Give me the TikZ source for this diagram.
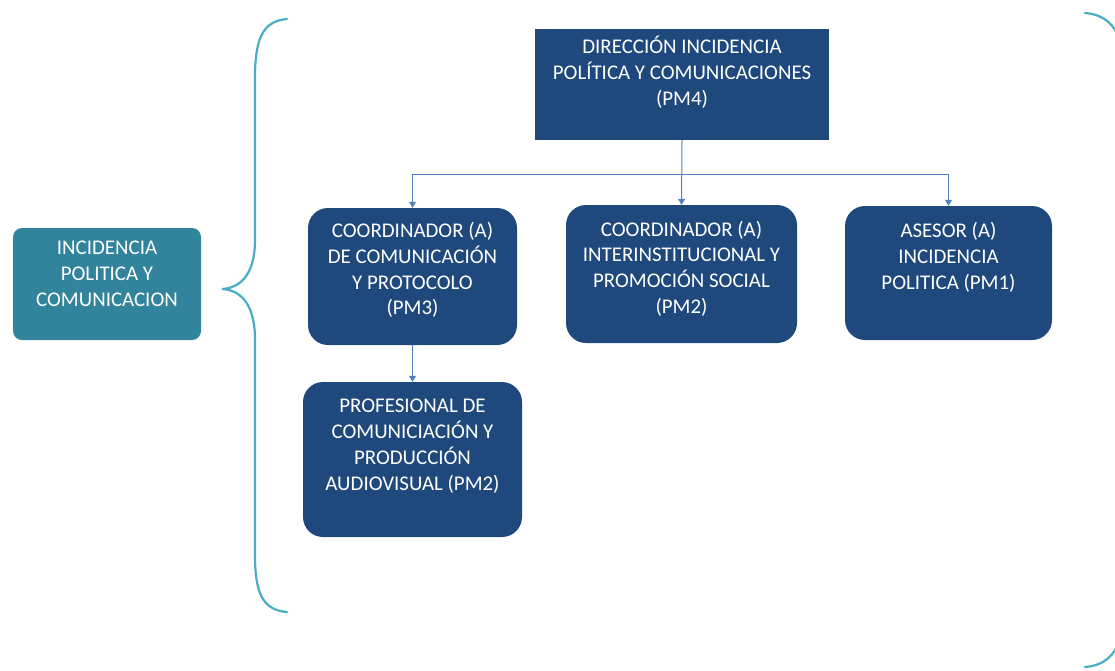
\documentclass[tikz,border=0pt]{standalone}
\usepackage{fontspec}
\setmainfont{Carlito}
\usetikzlibrary{arrows.meta}
\definecolor{darkbox}{HTML}{1F497D}
\definecolor{tealbox}{HTML}{31849B}
\definecolor{bracecol}{HTML}{4BACC6}
\definecolor{linecol}{HTML}{4F81BD}
\tikzset{
  orgbox/.style={fill=darkbox, draw=none, inner sep=0pt, rounded corners=20pt},
  sqbox/.style={fill=darkbox, draw=none, inner sep=0pt},
  leftbox/.style={fill=tealbox, draw=none, inner sep=0pt, rounded corners=9pt},
  lbl/.style={text=white, align=center, inner sep=0pt, font=\fontsize{20.9}{25.8}\selectfont},
  conn/.style={draw=linecol, line width=1pt},
  arr/.style={conn, -{Triangle[width=7pt,length=6pt]}},
  bracestyle/.style={draw=bracecol, line width=2.2pt, line cap=round}
}
\begin{document}
\begin{tikzpicture}[x=1pt,y=-1pt]
\useasboundingbox (0,0) rectangle (1115,670);
\clip (0,0) rectangle (1115,670);
% boxes
\node[leftbox, minimum width=188pt, minimum height=112pt] (left) at (107,284) {};
\node[lbl] (leftt) at (107,274) {INCIDENCIA\\POLITICA Y\\COMUNICACION};

\node[sqbox, minimum width=294pt, minimum height=111pt] (top) at (682,84.5) {};
\node[lbl] (topt) at (682,72) {DIRECCIÓN INCIDENCIA\\POLÍTICA Y COMUNICACIONES\\(PM4)};

\node[orgbox, minimum width=209pt, minimum height=137pt] (coorA) at (412.5,276.5) {};
\node[lbl] (coorAt) at (412.5,270) {COORDINADOR (A)\\DE COMUNICACIÓN\\Y PROTOCOLO\\(PM3)};

\node[orgbox, minimum width=231pt, minimum height=138pt] (coorB) at (681.5,274) {};
\node[lbl] (coorBt) at (681.5,268.5) {COORDINADOR (A)\\INTERINSTITUCIONAL Y\\PROMOCIÓN SOCIAL\\(PM2)};

\node[orgbox, minimum width=207pt, minimum height=134pt] (asesor) at (948.5,273) {};
\node[lbl] (asesort) at (948.5,257) {ASESOR (A)\\INCIDENCIA\\POLITICA (PM1)};

\node[orgbox, minimum width=219pt, minimum height=155pt] (prof) at (412.5,459.5) {};
\node[lbl] (proft) at (412.5,446) {PROFESIONAL DE\\COMUNICIACIÓN Y\\PRODUCCIÓN\\AUDIOVISUAL (PM2)};

% connectors
\coordinate (j) at (682,174);
\draw[arr] (top.south) -- (coorB.north);
\draw[arr] (j) -| (coorA.north);
\draw[arr] (j) -| (asesor.north);
\draw[arr] (coorA.south) -- (prof.north);

% left brace
\draw[bracestyle] (287,19) .. controls (262,21) and (255,40) .. (255,78)
  -- (255,240) .. controls (255,275) and (240,288) .. (222,289)
  .. controls (240,290) and (255,303) .. (255,340)
  -- (255,555) .. controls (255,592) and (262,610) .. (287,612);
% right brace (mostly off the page)
\draw[bracestyle] (1085,13) .. controls (1112,15) and (1124,35) .. (1124,72)
  -- (1124,608) .. controls (1124,645) and (1112,665) .. (1085,667);
\end{tikzpicture}
\end{document}
